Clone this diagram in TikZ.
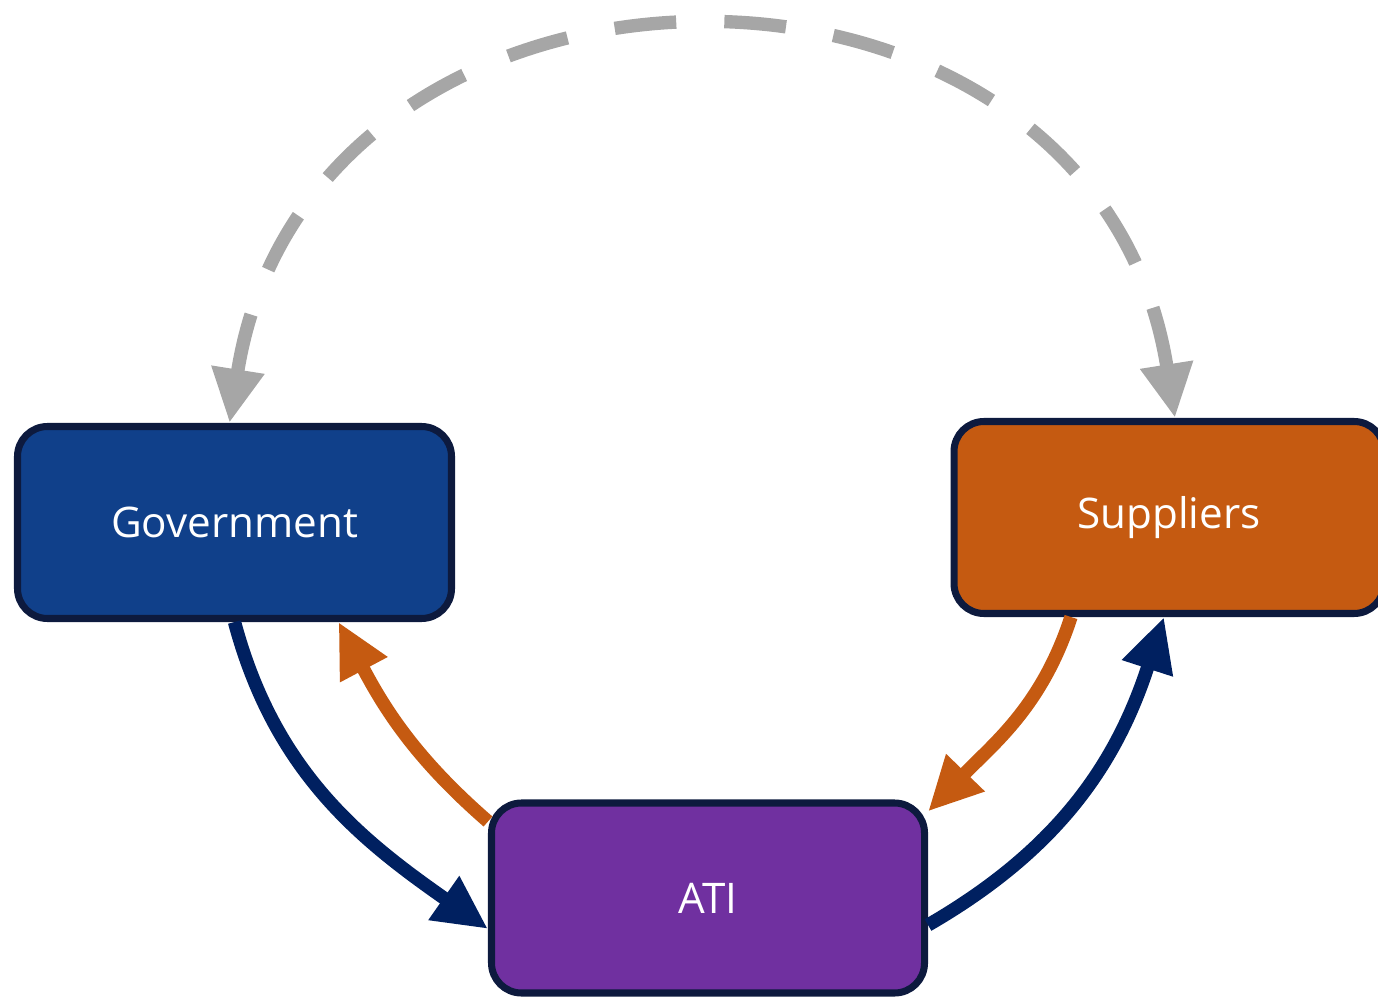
\documentclass[tikz,border=0pt]{standalone}
\usepackage{fontspec}
\setmainfont{Open Sans}
\usetikzlibrary{arrows.meta}

\definecolor{govblue}{HTML}{10408A}
\definecolor{suporange}{HTML}{C55A11}
\definecolor{atipurple}{HTML}{7030A0}
\definecolor{edgenavy}{HTML}{0D1A3E}
\definecolor{flownavy}{HTML}{002060}
\definecolor{flowgray}{HTML}{A6A6A6}

\begin{document}
\begin{tikzpicture}[%
      party/.style={draw=edgenavy, line width=2pt, rounded corners=0.3cm,
        text=white, font=\fontsize{12}{14}\selectfont},
      flow/.style={line width=3.8pt, -{Triangle[length=0.54cm, width=0.5cm]}},
      ]
      \useasboundingbox (0,0) rectangle (13.78,-9.97);

      \node [party, fill=govblue, minimum width=4.34cm, minimum height=1.92cm]
        (gov) at (2.345,-5.225) {Government};
      \node [party, fill=suporange, minimum width=4.3cm, minimum height=1.92cm]
        (sup) at (11.69,-5.175) {Suppliers};
      \node [party, fill=atipurple, minimum width=4.33cm, minimum height=1.9cm]
        (ati) at (7.08,-8.98) {ATI};

      \draw [flow, color=flowgray, dash pattern=on 17.6pt off 13.7pt,
        {Triangle[length=0.54cm, width=0.5cm]}-{Triangle[length=0.54cm, width=0.5cm]}]
        ([xshift=0.06cm]sup.north) to[out=99, in=81, looseness=1.41] ([xshift=-0.05cm]gov.north);

      \draw [flow, color=flownavy] (gov.south) to[out=-75, in=145] (ati.188);
      \draw [flow, color=flownavy] ([yshift=-0.27cm]ati.east) to[out=30, in=-108] ([xshift=-0.05cm]sup.south);

      \draw [flow, color=suporange] ([xshift=-0.98cm]sup.south) to[out=252, in=46] ([yshift=-0.12cm]ati.north east);
      \draw [flow, color=suporange] ([yshift=-0.22cm]ati.north west) to[out=139, in=-62] ([xshift=1.04cm]gov.south);
      \end{tikzpicture}
\end{document}
